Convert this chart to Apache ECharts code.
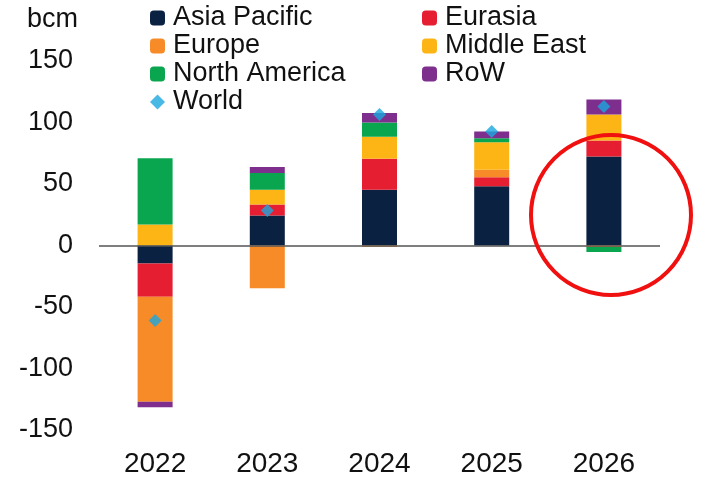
<!DOCTYPE html>
<html>
<head>
<meta charset="utf-8">
<script src="https://cdn.jsdelivr.net/npm/echarts@6/dist/echarts.min.js"></script>
<style>html,body{margin:0;padding:0;background:#fff;}#c{width:712px;height:482px;}</style>
</head>
<body>
<div id="c"></div>
<script>
const categories = ['2022', '2023', '2024', '2025', '2026'];
const asiaPacific  = [-14.6, 24.4, 45.3, 48.2, 72.4];
const eurasia      = [-27,    9,   25.2,  7.3, 13];
const europe       = [-85.5, -34.7, -1,   6,   -1.2];
const middleEast   = [17,    12,   18,   22.5, 21.1];
const northAmerica = [54,    13.5, 11.6,  3.2, -4];
const row          = [-4.5,   5,    7.7,  5.5, 12.2];
const world        = [-61,   28.5, 106.5, 92.7, 113];
const yTicks = [-150, -100, -50, 0, 50, 100, 150];

const colors = {
  'Asia Pacific': '#0b2141',
  'Eurasia': '#e61e32',
  'Europe': '#f68b28',
  'Middle East': '#fdb515',
  'North America': '#0aa64f',
  'RoW': '#7e2f8e',
  'World': '#1aa7df'
};

const barSeries = [
  ['Asia Pacific', asiaPacific],
  ['Eurasia', eurasia],
  ['Europe', europe],
  ['Middle East', middleEast],
  ['North America', northAmerica],
  ['RoW', row]
].map(([name, data], i) => ({
  name, type: 'bar', stack: 'total', data, barWidth: 35,
  itemStyle: { color: colors[name] },
  z: 2,
  ...(i === 0 ? {
    markLine: {
      silent: true, symbol: 'none', label: { show: false },
      lineStyle: { color: '#555', width: 1.5, type: 'solid' },
      data: [{ yAxis: 0 }], z: 5
    }
  } : {})
}));

const chart = echarts.init(document.getElementById('c'));
const font = 'Liberation Sans, Arial, sans-serif';
const legendText = { fontSize: 27, color: '#111', fontFamily: font, lineHeight: 28, padding: [0, 0, 0, 3] };
chart.setOption({
  animation: false,
  textStyle: { fontFamily: font },
  grid: { left: 99, right: 52, top: 61, bottom: 52 },
  legend: [
    {
      data: ['Asia Pacific', 'Europe', 'North America', { name: 'World', icon: 'diamond' }],
      orient: 'vertical', left: 145, top: -1, itemWidth: 15, itemHeight: 15, itemGap: 0,
      textStyle: legendText
    },
    {
      data: ['Eurasia', 'Middle East', 'RoW'],
      orient: 'vertical', left: 417, top: -1, itemWidth: 15, itemHeight: 15, itemGap: 0,
      textStyle: legendText
    }
  ],
  xAxis: {
    type: 'category', data: categories,
    axisLine: { show: false, onZero: false }, axisTick: { show: false },
    axisLabel: { fontSize: 28, color: '#111', margin: 20, fontFamily: font }
  },
  yAxis: {
    type: 'value', min: yTicks[0], max: yTicks[yTicks.length - 1], interval: 50,
    name: 'bcm', nameLocation: 'end', nameGap: 28,
    nameTextStyle: { fontSize: 27, color: '#111', align: 'right', padding: [0, 21, 0, 0], fontFamily: font },
    splitLine: { show: false }, axisLine: { show: false }, axisTick: { show: false },
    axisLabel: { fontSize: 27, color: '#111', margin: 26, fontFamily: font }
  },
  series: [
    ...barSeries,
    {
      name: 'World', type: 'scatter', data: world, symbol: 'diamond', symbolSize: 13,
      itemStyle: { color: colors['World'] }, z: 10
    }
  ],
  graphic: [{
    type: 'circle', shape: { cx: 611, cy: 215, r: 80 },
    style: { fill: 'none', stroke: '#f01010', lineWidth: 4 }, z: 100
  }]
});
</script>
</body>
</html>
